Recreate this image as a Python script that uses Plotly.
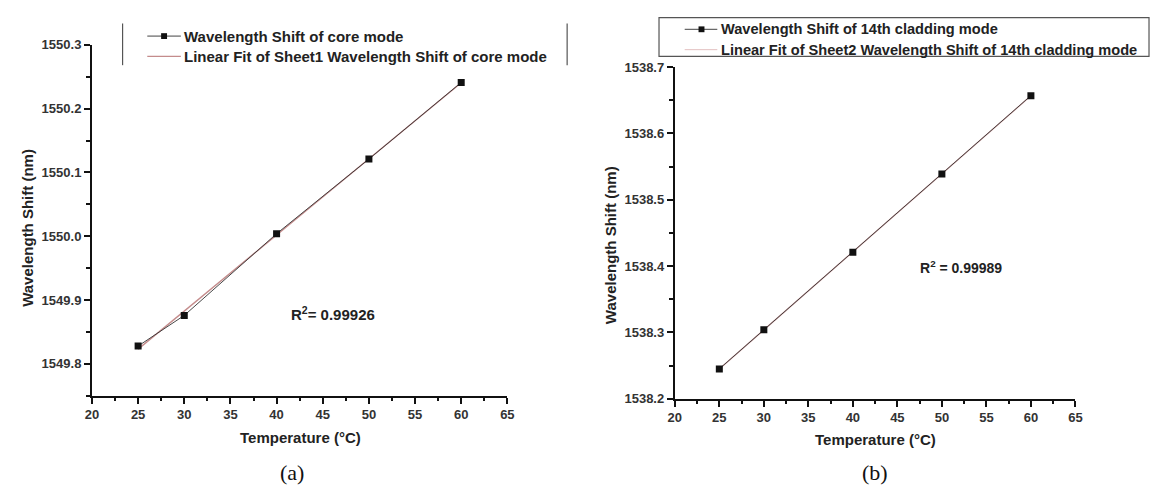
import numpy as np
import plotly.graph_objects as go

# ---- data ----
temps = [25, 30, 40, 50, 60]
core_shift = [1549.828, 1549.876, 1550.004, 1550.121, 1550.241]
clad_shift = [1538.245, 1538.304, 1538.421, 1538.539, 1538.657]
r2_core = "0.99926"
r2_clad = "0.99989"
x_ticks = [20, 25, 30, 35, 40, 45, 50, 55, 60, 65]
core_ticks = [1549.8, 1549.9, 1550.0, 1550.1, 1550.2, 1550.3]
clad_ticks = [1538.2, 1538.3, 1538.4, 1538.5, 1538.6, 1538.7]

W, H = 1157, 494
def px(x):
    return x / W
def py(y):
    return 1 - y / H

fig = go.Figure()

DATA_COL = "#333333"
FIT_COL = "#c48c8c"
SANS = "Liberation Sans, Arial, sans-serif"

for x_data, y_data, xa, ya, fitcol in [
    (temps, core_shift, "x", "y", FIT_COL),
    (temps, clad_shift, "x2", "y2", "#d6a8a8"),
]:
    k, b = np.polyfit(x_data, y_data, 1)
    xf = np.array([min(x_data), max(x_data)])
    fig.add_trace(go.Scatter(x=xf, y=k * xf + b, mode="lines",
                             line=dict(color=fitcol, width=1.4),
                             xaxis=xa, yaxis=ya, showlegend=False, hoverinfo="skip"))
    fig.add_trace(go.Scatter(x=x_data, y=y_data, mode="lines+markers",
                             line=dict(color=DATA_COL, width=0.9),
                             marker=dict(symbol="square", size=7, color="#111111"),
                             xaxis=xa, yaxis=ya, showlegend=False))

tickfont = dict(family=SANS, size=13, color="#333333", weight="bold")
axis_common = dict(
    showgrid=False, zeroline=False, showline=True, linecolor="#111111", linewidth=2,
    ticks="outside", ticklen=6, tickwidth=2, tickcolor="#111111", tickfont=tickfont,
    mirror=False,
)
minor_x = dict(dtick=2.5, tick0=20, ticks="outside", ticklen=3.5, tickwidth=2, tickcolor="#111111")

def b(s):
    return f"<b>{s}</b>"

fig.update_layout(
    width=W, height=H, autosize=False,
    margin=dict(l=0, r=0, t=0, b=0),
    paper_bgcolor="white", plot_bgcolor="white",
    showlegend=False,
    xaxis=dict(domain=[px(86), px(506.5)], range=[20, 65], tickvals=x_ticks,
               ticktext=[b(v) for v in x_ticks], minor=minor_x,
               anchor="y", **axis_common),
    yaxis=dict(domain=[py(401), py(39)], range=[1549.75, 1550.3], tickvals=core_ticks,
               ticktext=[b(f"{v:.1f}") for v in core_ticks],
               minor=dict(dtick=0.05, tick0=1549.75, ticks="outside", ticklen=3.5, tickwidth=2, tickcolor="#111111"),
               anchor="x", **axis_common),
    xaxis2=dict(domain=[px(676), px(1081.5)], range=[20, 65], tickvals=x_ticks,
                ticktext=[b(v) for v in x_ticks], minor=minor_x,
                anchor="y2", **axis_common),
    yaxis2=dict(domain=[py(404), py(62)], range=[1538.2, 1538.7], tickvals=clad_ticks,
                ticktext=[b(f"{v:.1f}") for v in clad_ticks],
                minor=dict(dtick=0.05, tick0=1538.2, ticks="outside", ticklen=3.5, tickwidth=2, tickcolor="#111111"),
                anchor="x2", **axis_common),
)

serif = dict(family="Liberation Serif, Times New Roman, serif", color="#111111")

annos = []
def txt(x, y, s, size, xanchor="center", angle=0, font=None, bold=True):
    f = dict(family=SANS, color="#222222") if font is None else dict(font)
    f["size"] = size
    annos.append(dict(x=px(x), y=py(y), xref="paper", yref="paper",
                      text=(f"<b>{s}</b>" if bold else s),
                      showarrow=False, xanchor=xanchor, yanchor="middle",
                      textangle=angle, font=f))

# axis titles
txt(20, 228, "Wavelength Shift (nm)", 15, angle=-90)
txt(611, 246, "Wavelength Shift (nm)", 15, angle=-90)
txt(297, 444, "Temperature (°C)", 15)
txt(879, 446, "Temperature (°C)", 15)
# R^2
txt(330, 316, "R<sup>2</sup>= " + r2_core, 15)
txt(966, 268, "R<sup>2</sup> = " + r2_clad, 14)
# captions
txt(288, 480, "(a)", 22, font=serif, bold=False)
txt(879, 480, "(b)", 22, font=serif, bold=False)
# legend texts
txt(177, 30, "Wavelength Shift of core mode", 15, xanchor="left")
txt(177, 51, "Linear Fit of Sheet1 Wavelength Shift of core mode", 15, xanchor="left")
txt(721, 23, "Wavelength Shift of 14th cladding mode", 14.6, xanchor="left")
txt(721, 44, "Linear Fit of Sheet2 Wavelength Shift of 14th cladding mode", 14.6, xanchor="left")
fig.update_layout(annotations=annos)

shapes = []
def line(x0, y0, x1, y1, color, width):
    shapes.append(dict(type="line", xref="paper", yref="paper", x0=px(x0), y0=py(y0),
                       x1=px(x1), y1=py(y1), line=dict(color=color, width=width)))
def sq(xc, yc, s=6):
    shapes.append(dict(type="rect", xref="paper", yref="paper",
                       x0=px(xc - s / 2), x1=px(xc + s / 2), y0=py(yc + s / 2), y1=py(yc - s / 2),
                       fillcolor="#111111", line=dict(width=0)))

# left legend (only side borders visible)
line(117, 17, 117, 60, "#555555", 1.2)
line(567, 17, 567, 60, "#555555", 1.2)
line(142, 30, 176, 30, "#444444", 1)
sq(159, 30)
line(142, 51, 176, 51, FIT_COL, 1.2)
# right legend box
shapes.append(dict(type="rect", xref="paper", yref="paper", x0=px(660), x1=px(1156),
                   y0=py(51), y1=py(11), line=dict(color="#555555", width=1.2)))
line(686, 23, 719, 23, "#444444", 1)
sq(703, 23)
line(686, 44, 719, 44, "#e3c0c0", 1)
fig.update_layout(shapes=shapes)

fig.write_html("out.html")
